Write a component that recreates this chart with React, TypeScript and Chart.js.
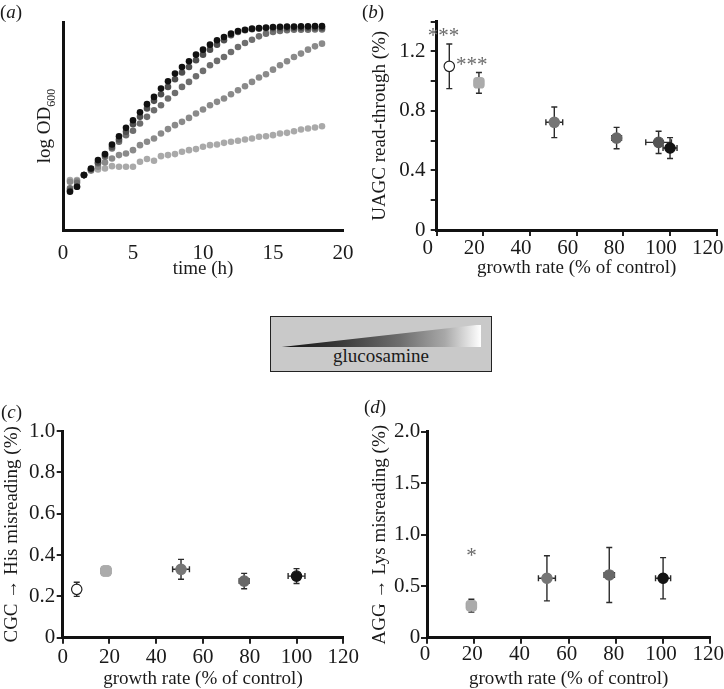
import React, { useEffect, useRef } from 'react';
import { Chart, registerables } from 'chart.js';

Chart.register(...registerables);

const SERIF = '"Liberation Serif", "Times New Roman", "DejaVu Serif", serif';
const INK = '#1a1a1a';

// ---------------- panel (a): growth curves (log OD600, arbitrary units) ----------------
const timeHours = [0.5, 1, 1.5, 2, 2.5, 3, 3.5, 4, 4.5, 5, 5.5, 6, 6.5, 7, 7.5, 8, 8.5, 9, 9.5, 10,
  10.5, 11, 11.5, 12, 12.5, 13, 13.5, 14, 14.5, 15, 15.5, 16, 16.5, 17, 17.5, 18, 18.5];
const odControl = [18.4, 20.8, 26.4, 29.6, 33.6, 36.5, 41.1, 45.1, 49.1, 52.8, 56.6, 60.5, 64.0, 68.0, 71.5,
  75.2, 78.4, 81.1, 84.3, 86.7, 89.1, 91.2, 92.8, 94.4, 95.7, 96.3, 96.8, 97.1, 97.3, 97.6, 97.7, 97.8, 97.8,
  97.9, 97.9, 98.0, 98.0];
const odGlcN1 = [18.9, 20.8, 26.4, 29.3, 32.5, 36.0, 40.0, 43.5, 47.2, 50.9, 54.4, 58.4, 62.1, 65.3, 68.8,
  72.5, 75.7, 78.4, 81.6, 84.3, 86.7, 89.1, 91.2, 93.6, 95.2, 96.0, 96.5, 96.8, 97.0, 97.0, 97.0, 97.1, 97.1,
  97.1, 97.2, 97.2, 97.2];
const odGlcN2 = [20.0, 22.7, 26.4, 28.8, 32.0, 35.2, 39.2, 42.4, 45.6, 47.7, 51.2, 54.4, 57.6, 60.0, 63.2,
  65.9, 68.8, 71.2, 73.9, 76.5, 79.2, 81.3, 83.2, 85.6, 88.0, 89.9, 91.5, 93.1, 94.4, 95.2, 95.7, 96.0, 96.3,
  96.3, 96.3, 96.4, 96.4];
const odGlcN3 = [23.2, 23.5, 26.4, 28.8, 30.4, 32.5, 34.4, 36.0, 36.8, 38.4, 40.8, 42.4, 44.0, 46.4, 48.5,
  50.4, 52.0, 53.9, 56.0, 57.9, 60.0, 61.6, 63.2, 65.3, 67.2, 69.1, 71.2, 73.3, 74.9, 77.1, 79.2, 81.1, 83.2,
  84.8, 86.7, 88.3, 89.6];
const odGlcN4 = [24.0, 24.0, 26.4, 28.5, 29.1, 29.6, 30.7, 30.4, 30.4, 30.4, 32.8, 34.1, 33.3, 35.5, 36.0,
  36.5, 37.6, 38.4, 38.9, 40.0, 40.8, 41.1, 41.9, 42.4, 42.9, 43.5, 44.0, 44.8, 45.1, 45.6, 46.4, 46.7, 47.5,
  48.3, 48.8, 49.3, 49.9];
const curveSeries = [odControl, odGlcN1, odGlcN2, odGlcN3, odGlcN4];
const curveColors = ['#111111', '#4f4f4f', '#6e6e6e', '#8a8a8a', '#a9a9a9'];
const timeTickValues = [0, 5, 10, 15, 20];
const timeTickLabels = ['0', '5', '10', '15', '20'];

// ---------------- shared growth-rate axis ----------------
const growthTickValues = [0, 20, 40, 60, 80, 100, 120];
const growthTickLabels = ['0', '20', '40', '60', '80', '100', '120'];

// ---------------- panel (b): UAGC read-through ----------------
const bGrowth = [5.4, 18.1, 50.4, 77.1, 95.1, 100];
const bGrowthErr = [0, 1.5, 3.6, 2.1, 5.5, 3.0];
const bReadThrough = [1.10, 0.989, 0.724, 0.618, 0.589, 0.551];
const bReadThroughErr = [0.15, 0.07, 0.103, 0.072, 0.075, 0.07];
const bFill = ['#ffffff', '#ababab', '#767676', '#686868', '#555555', '#141414'];
const bEdge = ['#222222', '#ababab', '#767676', '#686868', '#555555', '#141414'];
const bShape = ['circle', 'rectRounded', 'circle', 'circle', 'circle', 'circle'];
const bStarLabels = ['***', '***'];
const bStarX = [2.9, 15.0];
const bStarY = [1.33, 1.135];
const bYTickValues = [0, 0.2, 0.4, 0.6, 0.8, 1.0, 1.2, 1.4];
const bYTickLabels = ['0', '', '0.4', '', '0.8', '', '1.2', ''];

// ---------------- panel (c): CGC -> His misreading ----------------
const cGrowth = [6.0, 18.5, 50.6, 77.6, 100];
const cGrowthErr = [0, 2.0, 3.6, 2.1, 3.6];
const cMisreading = [0.234, 0.323, 0.331, 0.274, 0.298];
const cMisreadingErr = [0.034, 0.022, 0.048, 0.037, 0.036];
const cFill = ['#ffffff', '#ababab', '#767676', '#686868', '#141414'];
const cEdge = ['#222222', '#ababab', '#767676', '#686868', '#141414'];
const cShape = ['circle', 'rectRounded', 'circle', 'circle', 'circle'];
const cYTickValues = [0, 0.2, 0.4, 0.6, 0.8, 1.0];
const cYTickLabels = ['0', '0.2', '0.4', '0.6', '0.8', '1.0'];

// ---------------- panel (d): AGG -> Lys misreading ----------------
const dGrowth = [18.8, 50.8, 77.2, 100];
const dGrowthErr = [2.0, 3.6, 2.2, 3.2];
const dMisreading = [0.311, 0.577, 0.609, 0.577];
const dMisreadingErr = [0.063, 0.219, 0.267, 0.2];
const dFill = ['#ababab', '#767676', '#686868', '#141414'];
const dEdge = ['#ababab', '#767676', '#686868', '#141414'];
const dShape = ['rectRounded', 'circle', 'circle', 'circle'];
const dStarLabels = ['*'];
const dStarX = [18.8];
const dStarY = [0.83];
const dYTickValues = [0, 0.5, 1.0, 1.5, 2.0];
const dYTickLabels = ['0', '0.5', '1.0', '1.5', '2.0'];

// ---------------- helpers ----------------
const zip = (xs: number[], ys: number[]) => xs.map((x, i) => ({ x, y: ys[i] }));

function fixedTicks(values: number[]) {
  return (scale: any) => {
    scale.ticks = values.map((v) => ({ value: v }));
  };
}

function errorBars(xs: number[], ys: number[], xErr: number[], yErr: number[]) {
  return {
    id: 'errorBars',
    beforeDatasetsDraw(chart: any) {
      const { ctx } = chart;
      const sx = chart.scales.x;
      const sy = chart.scales.y;
      const cap = 3;
      ctx.save();
      ctx.strokeStyle = '#2b2b2b';
      ctx.lineWidth = 1.4;
      xs.forEach((xv, i) => {
        const px = sx.getPixelForValue(xv);
        const py = sy.getPixelForValue(ys[i]);
        ctx.beginPath();
        if (yErr[i] > 0) {
          const t = sy.getPixelForValue(ys[i] + yErr[i]);
          const b = sy.getPixelForValue(ys[i] - yErr[i]);
          ctx.moveTo(px, t); ctx.lineTo(px, b);
          ctx.moveTo(px - cap, t); ctx.lineTo(px + cap, t);
          ctx.moveTo(px - cap, b); ctx.lineTo(px + cap, b);
        }
        if (xErr[i] > 0) {
          const l = sx.getPixelForValue(xv - xErr[i]);
          const r = sx.getPixelForValue(xv + xErr[i]);
          ctx.moveTo(l, py); ctx.lineTo(r, py);
          ctx.moveTo(l, py - cap); ctx.lineTo(l, py + cap);
          ctx.moveTo(r, py - cap); ctx.lineTo(r, py + cap);
        }
        ctx.stroke();
      });
      ctx.restore();
    },
  };
}

function starMarks(labels: string[], xs: number[], ys: number[]) {
  return {
    id: 'starMarks',
    afterDatasetsDraw(chart: any) {
      const { ctx } = chart;
      ctx.save();
      ctx.fillStyle = '#6a6a6a';
      ctx.font = `21px ${SERIF}`;
      ctx.textAlign = 'center';
      ctx.textBaseline = 'alphabetic';
      labels.forEach((s, i) => {
        const px = chart.scales.x.getPixelForValue(xs[i]);
        const py = chart.scales.y.getPixelForValue(ys[i]);
        ctx.fillText(s, px, py + 9.5);
      });
      ctx.restore();
    },
  };
}

const odTitle = {
  id: 'odTitle',
  afterDraw(chart: any) {
    const { ctx, chartArea } = chart;
    const cy = (chartArea.top + chartArea.bottom) / 2;
    ctx.save();
    ctx.translate(chartArea.left - 13.5, cy);
    ctx.rotate(-Math.PI / 2);
    ctx.fillStyle = INK;
    ctx.textBaseline = 'alphabetic';
    ctx.font = `19px ${SERIF}`;
    const main = 'log OD';
    const wMain = ctx.measureText(main).width;
    ctx.font = `12px ${SERIF}`;
    const sub = '600';
    const wSub = ctx.measureText(sub).width;
    const x0 = -(wMain + wSub) / 2;
    ctx.font = `19px ${SERIF}`;
    ctx.fillText(main, x0, 0);
    ctx.font = `12px ${SERIF}`;
    ctx.fillText(sub, x0 + wMain, 5);
    ctx.restore();
  },
};

const tickFont = { family: SERIF, size: 21, lineHeight: 1 };
const titleFont = { family: SERIF, size: 19, lineHeight: 1 };
const axisBorder = { display: true, color: '#111111', width: 3 };
const tickGrid = { display: true, drawOnChartArea: false, drawTicks: true, tickLength: 6, color: '#222222', lineWidth: 2 };

interface PanelSpec {
  padding: { top: number; right: number };
  yWidth: number;
  xHeight: number;
  xTickPad: number;
  xLabelOffset: number;
  yTickPad: number;
  yMax: number;
  yTickValues: number[];
  yTickLabels: string[];
  yTitle: string;
  yTitlePad: number;
  xTitlePad: number;
}

function errorPanelConfig(
  spec: PanelSpec, xs: number[], ys: number[], xErr: number[], yErr: number[],
  fill: string[], edge: string[], shape: string[], extra: any[],
) {
  return {
    type: 'scatter',
    data: {
      datasets: [{
        data: zip(xs, ys),
        backgroundColor: fill,
        borderColor: edge,
        borderWidth: 1.2,
        pointStyle: shape,
        pointRadius: shape.map((s) => (s === 'rectRounded' ? 6 : 5.2)),
        pointHoverRadius: 5,
      }],
    },
    options: {
      animation: false,
      responsive: false,
      events: [],
      layout: { padding: { top: spec.padding.top, right: spec.padding.right, left: 0, bottom: 0 } },
      plugins: { legend: { display: false }, tooltip: { enabled: false } },
      scales: {
        x: {
          type: 'linear', min: 0, max: 120,
          afterBuildTicks: fixedTicks(growthTickValues),
          afterFit: (s: any) => { s.height = spec.xHeight; s.paddingLeft = 0; s.paddingRight = 0; },
          ticks: {
            font: tickFont, color: INK, padding: spec.xTickPad, labelOffset: spec.xLabelOffset,
            maxRotation: 0, autoSkip: false,
            callback: (_v: any, i: number) => growthTickLabels[i],
          },
          grid: tickGrid,
          border: axisBorder,
          title: { display: true, text: 'growth rate (% of control)', font: titleFont, color: INK, padding: { top: 0, bottom: spec.xTitlePad } },
        },
        y: {
          type: 'linear', min: 0, max: spec.yMax,
          afterBuildTicks: fixedTicks(spec.yTickValues),
          afterFit: (s: any) => { s.width = spec.yWidth; s.paddingTop = 0; s.paddingBottom = 0; },
          ticks: {
            font: tickFont, color: INK, padding: spec.yTickPad, autoSkip: false,
            callback: (_v: any, i: number) => spec.yTickLabels[i],
          },
          grid: tickGrid,
          border: axisBorder,
          title: { display: true, text: spec.yTitle, font: titleFont, color: INK, padding: { top: spec.yTitlePad, bottom: 0 } },
        },
      },
    },
    plugins: [errorBars(xs, ys, xErr, yErr), ...extra],
  };
}

function curvesConfig() {
  return {
    type: 'scatter',
    data: {
      datasets: curveSeries.map((s, k) => ({
        data: zip(timeHours, s),
        backgroundColor: curveColors[k],
        borderWidth: 0,
        pointRadius: 3.3,
        pointHoverRadius: 3.3,
      })),
    },
    options: {
      animation: false,
      responsive: false,
      events: [],
      layout: { padding: { top: 22, right: 19, left: 0, bottom: 0 } },
      plugins: { legend: { display: false }, tooltip: { enabled: false } },
      scales: {
        x: {
          type: 'linear', min: 0, max: 20,
          afterBuildTicks: fixedTicks(timeTickValues),
          afterFit: (s: any) => { s.height = 50; s.paddingLeft = 0; s.paddingRight = 0; },
          ticks: {
            font: tickFont, color: INK, padding: 13, maxRotation: 0, autoSkip: false,
            callback: (_v: any, i: number) => timeTickLabels[i],
          },
          grid: { display: false, drawTicks: false },
          border: axisBorder,
          title: { display: true, text: 'time (h)', font: titleFont, color: INK, padding: { top: 0, bottom: 1.5 } },
        },
        y: {
          type: 'linear', min: 0, max: 100,
          afterFit: (s: any) => { s.width = 63; s.paddingTop = 0; s.paddingBottom = 0; },
          ticks: { display: false },
          grid: { display: false, drawTicks: false },
          border: axisBorder,
        },
      },
    },
    plugins: [odTitle],
  };
}

const specB: PanelSpec = {
  padding: { top: 21.7, right: 7.3 }, yWidth: 74.7, xHeight: 50, xTickPad: 2, xLabelOffset: -9,
  yTickPad: 5.2, yMax: 1.4, yTickValues: bYTickValues, yTickLabels: bYTickLabels,
  yTitle: 'UAGC read-through (%)', yTitlePad: 8.5, xTitlePad: 2,
};
const specC: PanelSpec = {
  padding: { top: 31, right: 18.7 }, yWidth: 62.7, xHeight: 51.3, xTickPad: 3.2, xLabelOffset: 0,
  yTickPad: 1.5, yMax: 1.0, yTickValues: cYTickValues, yTickLabels: cYTickLabels,
  yTitle: 'CGC \u2192 His misreading (%)', yTitlePad: 2.2, xTitlePad: 0,
};
const specD: PanelSpec = {
  padding: { top: 31.7, right: 13.7 }, yWidth: 65, xHeight: 51.3, xTickPad: 0.5, xLabelOffset: -2,
  yTickPad: 0.7, yMax: 2.0, yTickValues: dYTickValues, yTickLabels: dYTickLabels,
  yTitle: 'AGG \u2192 Lys misreading (%)', yTitlePad: 8.8, xTitlePad: 0,
};

function PanelLabel({ letter, left, top }: { letter: string; left: number; top: number }) {
  return (
    <div style={{ position: 'absolute', left, top, fontSize: 19, lineHeight: '19px', color: INK, whiteSpace: 'nowrap' }}>
      (<i>{letter}</i>)
    </div>
  );
}

export default function App() {
  const aRef = useRef<HTMLCanvasElement>(null);
  const bRef = useRef<HTMLCanvasElement>(null);
  const cRef = useRef<HTMLCanvasElement>(null);
  const dRef = useRef<HTMLCanvasElement>(null);

  useEffect(() => {
    const charts: Chart[] = [];
    charts.push(new Chart(aRef.current as HTMLCanvasElement, curvesConfig() as any));
    charts.push(new Chart(bRef.current as HTMLCanvasElement, errorPanelConfig(
      specB, bGrowth, bReadThrough, bGrowthErr, bReadThroughErr, bFill, bEdge, bShape,
      [starMarks(bStarLabels, bStarX, bStarY)]) as any));
    charts.push(new Chart(cRef.current as HTMLCanvasElement, errorPanelConfig(
      specC, cGrowth, cMisreading, cGrowthErr, cMisreadingErr, cFill, cEdge, cShape, []) as any));
    charts.push(new Chart(dRef.current as HTMLCanvasElement, errorPanelConfig(
      specD, dGrowth, dMisreading, dGrowthErr, dMisreadingErr, dFill, dEdge, dShape,
      [starMarks(dStarLabels, dStarX, dStarY)]) as any));
    return () => charts.forEach((c) => c.destroy());
  }, []);

  const canvasStyle = (left: number, top: number, w: number, h: number): React.CSSProperties => ({
    position: 'absolute', left, top, width: w, height: h,
  });

  return (
    <div style={{ position: 'fixed', left: 0, top: 0, width: 724, height: 689, overflow: 'hidden', background: '#ffffff', fontFamily: SERIF }}>
      <canvas ref={aRef} width={362} height={280} style={canvasStyle(0, 0, 362, 280)} />
      <canvas ref={bRef} width={362} height={280} style={canvasStyle(362, 0, 362, 280)} />
      <canvas ref={cRef} width={362} height={289} style={canvasStyle(0, 400, 362, 289)} />
      <canvas ref={dRef} width={362} height={289} style={canvasStyle(362, 400, 362, 289)} />

      <PanelLabel letter="a" left={0} top={2} />
      <PanelLabel letter="b" left={362} top={2} />
      <PanelLabel letter="c" left={1} top={402} />
      <PanelLabel letter="d" left={364} top={397} />

      <div style={{ position: 'absolute', left: 270, top: 316, width: 222, height: 56, boxSizing: 'border-box', background: '#c9c9c9', border: '1.5px solid #222222' }}>
        <div style={{
          position: 'absolute', left: 8.5, top: 7.5, width: 201.5, height: 22.7,
          background: 'linear-gradient(to right, #111111 0%, #3a3a3a 30%, #6e6e6e 60%, #a8a8a8 82%, #ffffff 100%)',
          clipPath: 'polygon(0% 100%, 100% 0%, 100% 100%)',
        }} />
        <div style={{ position: 'absolute', left: 0, width: '100%', top: 29, textAlign: 'center', fontSize: 19, lineHeight: '19px', color: INK }}>
          glucosamine
        </div>
      </div>
    </div>
  );
}
